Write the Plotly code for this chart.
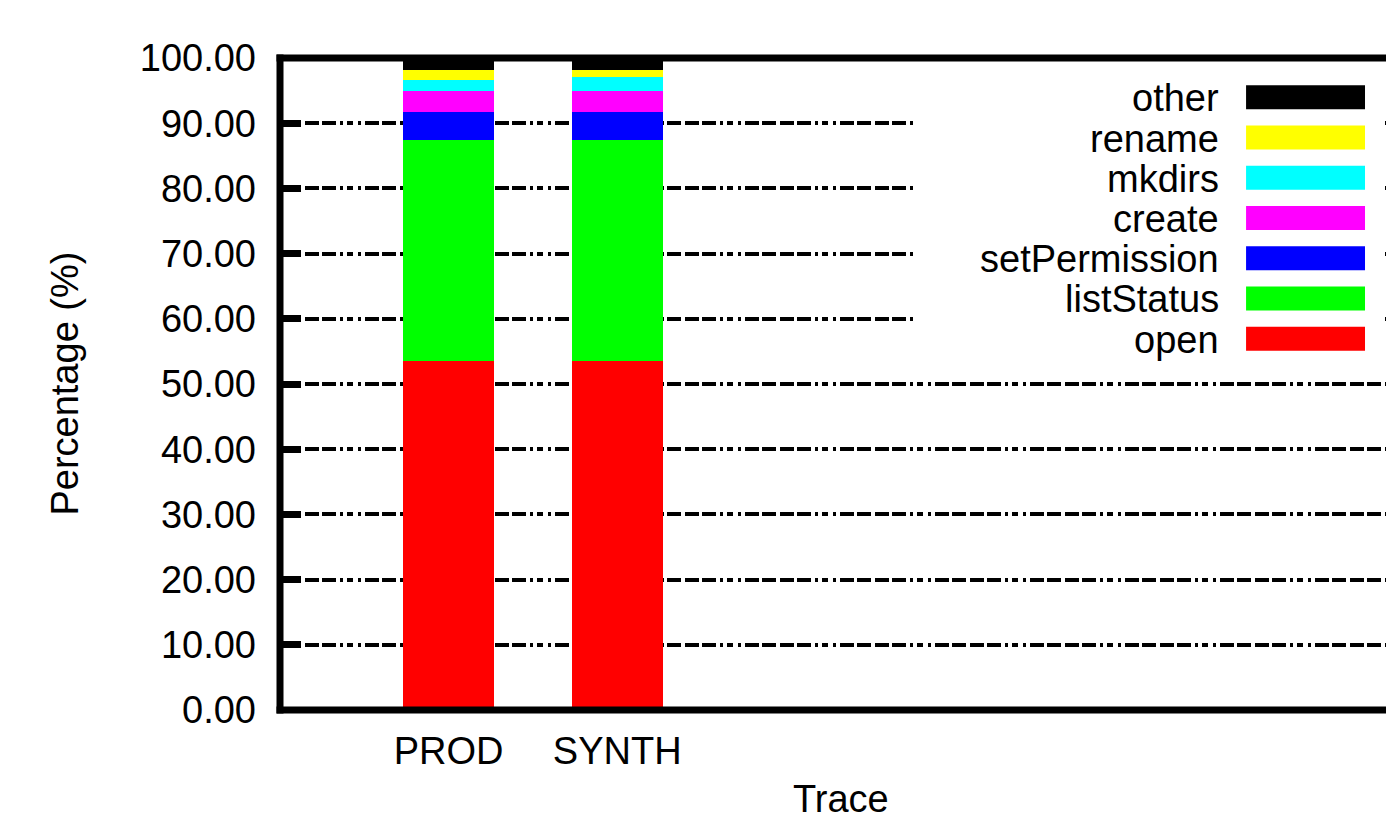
import plotly.graph_objects as go

# ---- data ----
traces = ["PROD", "SYNTH"]
series_names = ["open", "listStatus", "setPermission", "create", "mkdirs", "rename", "other"]
series_colors = ["#ff0000", "#00ff00", "#0000ff", "#ff00ff", "#00ffff", "#ffff00", "#000000"]
open_vals = [53.5, 53.5]
liststatus_vals = [33.9, 33.9]
setpermission_vals = [4.3, 4.3]
create_vals = [3.2, 3.2]
mkdirs_vals = [1.7, 2.2]
rename_vals = [1.5, 1.1]
other_vals = [1.9, 1.8]
series_values = [open_vals, liststatus_vals, setpermission_vals, create_vals,
                 mkdirs_vals, rename_vals, other_vals]
y_ticks = [0, 10, 20, 30, 40, 50, 60, 70, 80, 90, 100]

# ---- layout geometry (pixels) ----
W, H = 1386, 822
ML, MR, MT, MB = 279.5, 0, 57.7, 112
PW = W - ML - MR
PH = H - MT - MB
FONT = "Liberation Sans, Arial, Helvetica, sans-serif"
FS = 38

def px_x(p):
    return (p - ML) / PW

def px_y(p):
    return (H - MB - p) / PH

fig = go.Figure()
for name, color, vals in zip(series_names, series_colors, series_values):
    fig.add_trace(go.Bar(
        x=traces, y=vals, name=name, width=0.54,
        marker=dict(color=color, line=dict(width=0)),
        showlegend=False,
    ))

grid_dash = "3.5px,3.5px,14px,3.5px,14px,3.5px,14px,3.5px,3px,4.5px,6px,4.5px,3px,4px,10.5px,0px"

fig.update_layout(
    width=W, height=H,
    margin=dict(l=ML, r=MR, t=MT, b=MB, pad=0),
    paper_bgcolor="white", plot_bgcolor="white",
    barmode="stack", bargap=0,
    font=dict(family=FONT, size=FS, color="black"),
    xaxis=dict(
        type="category", range=[-1, 5.559], showgrid=False, zeroline=False,
        showline=False, ticks="", ticklabelstandoff=15,
        tickfont=dict(family=FONT, size=FS, color="black"),
        fixedrange=True,
    ),
    yaxis=dict(
        range=[0, 100], tickvals=y_ticks, tickformat=".2f",
        showgrid=True, gridcolor="black", gridwidth=3.5, griddash=grid_dash,
        zeroline=False, showline=False,
        ticks="inside", ticklen=21, tickwidth=6.5, tickcolor="black",
        ticklabelstandoff=23,
        tickfont=dict(family=FONT, size=FS, color="black"),
        fixedrange=True,
    ),
)

shapes = []
# white area behind the legend hiding gridlines
shapes.append(dict(type="rect", xref="paper", yref="paper", layer="above",
                   x0=px_x(913.5), x1=px_x(1382), y0=px_y(352), y1=px_y(70),
                   fillcolor="white", line=dict(width=0)))
# frame (left, top, bottom)
lw = 7
shapes.append(dict(type="line", xref="paper", yref="paper", layer="above",
                   x0=0, x1=0, y0=px_y(H - MB + 3.5), y1=px_y(MT - 3.5),
                   line=dict(color="black", width=lw)))
shapes.append(dict(type="line", xref="paper", yref="paper", layer="above",
                   x0=px_x(ML - 3.5), x1=px_x(W + 10), y0=1, y1=1,
                   line=dict(color="black", width=lw)))
shapes.append(dict(type="line", xref="paper", yref="paper", layer="above",
                   x0=px_x(ML - 3.5), x1=px_x(W + 10), y0=0, y1=0,
                   line=dict(color="black", width=lw)))

annotations = []
# custom legend: text right-aligned, swatch on the right, top row = last series
n = len(series_names)
for row in range(n):
    idx = n - 1 - row
    cy = 97 + 40.25 * row
    shapes.append(dict(type="rect", xref="paper", yref="paper", layer="above",
                       x0=px_x(1246), x1=px_x(1365), y0=px_y(cy + 12), y1=px_y(cy - 12),
                       fillcolor=series_colors[idx], line=dict(width=0)))
    annotations.append(dict(xref="paper", yref="paper", x=px_x(1221), y=px_y(cy + 1),
                            xanchor="right", yanchor="middle", showarrow=False,
                            text=series_names[idx],
                            font=dict(family=FONT, size=FS, color="black")))

# axis titles
annotations.append(dict(xref="paper", yref="paper", x=px_x(64), y=0.5,
                        xanchor="center", yanchor="middle", showarrow=False,
                        textangle=-90, text="Percentage (%)",
                        font=dict(family=FONT, size=FS, color="black")))
annotations.append(dict(xref="paper", yref="paper", x=px_x(841), y=px_y(822),
                        xanchor="center", yanchor="bottom", showarrow=False,
                        text="Trace",
                        font=dict(family=FONT, size=FS, color="black")))

fig.update_layout(shapes=shapes, annotations=annotations)
fig.write_html("out.html", config={"displayModeBar": False})
